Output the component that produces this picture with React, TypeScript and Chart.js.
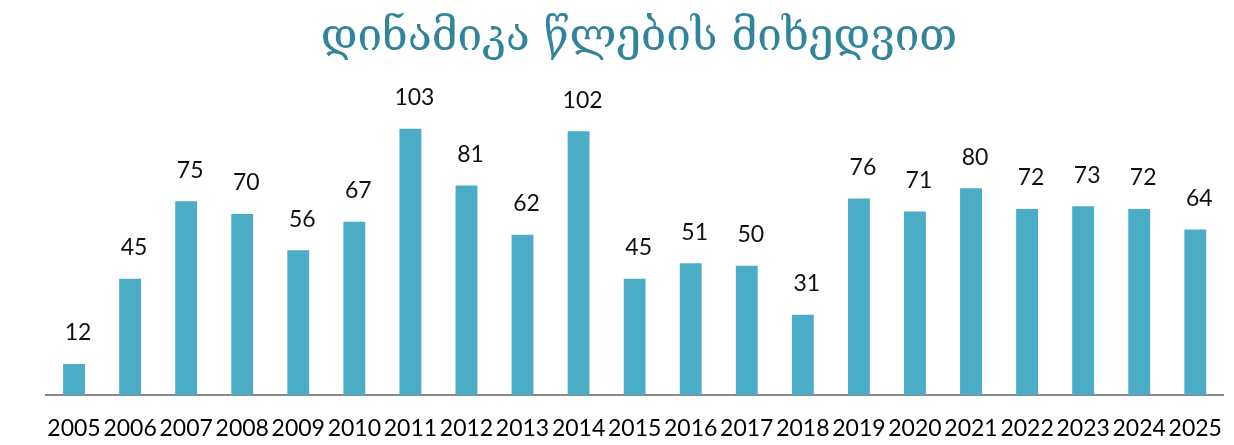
import React, { useEffect, useRef } from "react";
import { Chart, registerables } from "chart.js";

Chart.register(...registerables);

const titleText = "დინამიკა წლების მიხედვით";
const years = [
  "2005", "2006", "2007", "2008", "2009", "2010", "2011", "2012", "2013", "2014",
  "2015", "2016", "2017", "2018", "2019", "2020", "2021", "2022", "2023", "2024", "2025",
];
const counts = [12, 45, 75, 70, 56, 67, 103, 81, 62, 102, 45, 51, 50, 31, 76, 71, 80, 72, 73, 72, 64];

const labelFont = "Lato";

const valueLabels = {
  id: "valueLabels",
  afterDatasetsDraw(chart: any) {
    const ctx = chart.ctx;
    const meta = chart.getDatasetMeta(0);
    const data = chart.data.datasets[0].data as number[];
    ctx.save();
    ctx.fillStyle = "#111";
    ctx.font = `23px ${labelFont}`;
    ctx.textAlign = "center";
    ctx.textBaseline = "middle";
    meta.data.forEach((bar: any, i: number) => {
      ctx.fillText(String(data[i]), bar.x + 4, bar.y - 31);
    });
    ctx.restore();
  },
};

export default function App() {
  const ref = useRef<HTMLCanvasElement | null>(null);
  useEffect(() => {
    document.body.style.margin = "0";
    const chart = new Chart(ref.current!, {
      type: "bar",
      data: {
        labels: years,
        datasets: [
          {
            data: counts,
            backgroundColor: "#4BACC6",
            borderWidth: 0,
            barPercentage: 0.39,
            categoryPercentage: 1,
          },
        ],
      },
      options: {
        animation: false,
        responsive: false,
        layout: { padding: { left: 46, right: 2, top: 12, bottom: 0 } },
        plugins: {
          legend: { display: false },
          tooltip: { enabled: false },
          title: {
            display: true,
            text: titleText,
            color: "#31849B",
            font: { family: "DejaVu Serif", size: 44, weight: "normal" },
            padding: { top: 0, bottom: 20 },
          },
        },
        scales: {
          x: {
            grid: { display: false },
            border: { display: true, color: "#898989", width: 2 },
            ticks: {
              color: "#000",
              font: { family: labelFont, size: 23 },
              padding: 12,
              maxRotation: 0,
              autoSkip: false,
            },
            afterFit(scale: any) {
              scale.height = 50;
            },
          },
          y: {
            display: false,
            min: 0,
            max: 120,
          },
        },
      },
      plugins: [valueLabels],
    });
    return () => chart.destroy();
  }, []);
  return <canvas ref={ref} width={1234} height={445} />;
}
